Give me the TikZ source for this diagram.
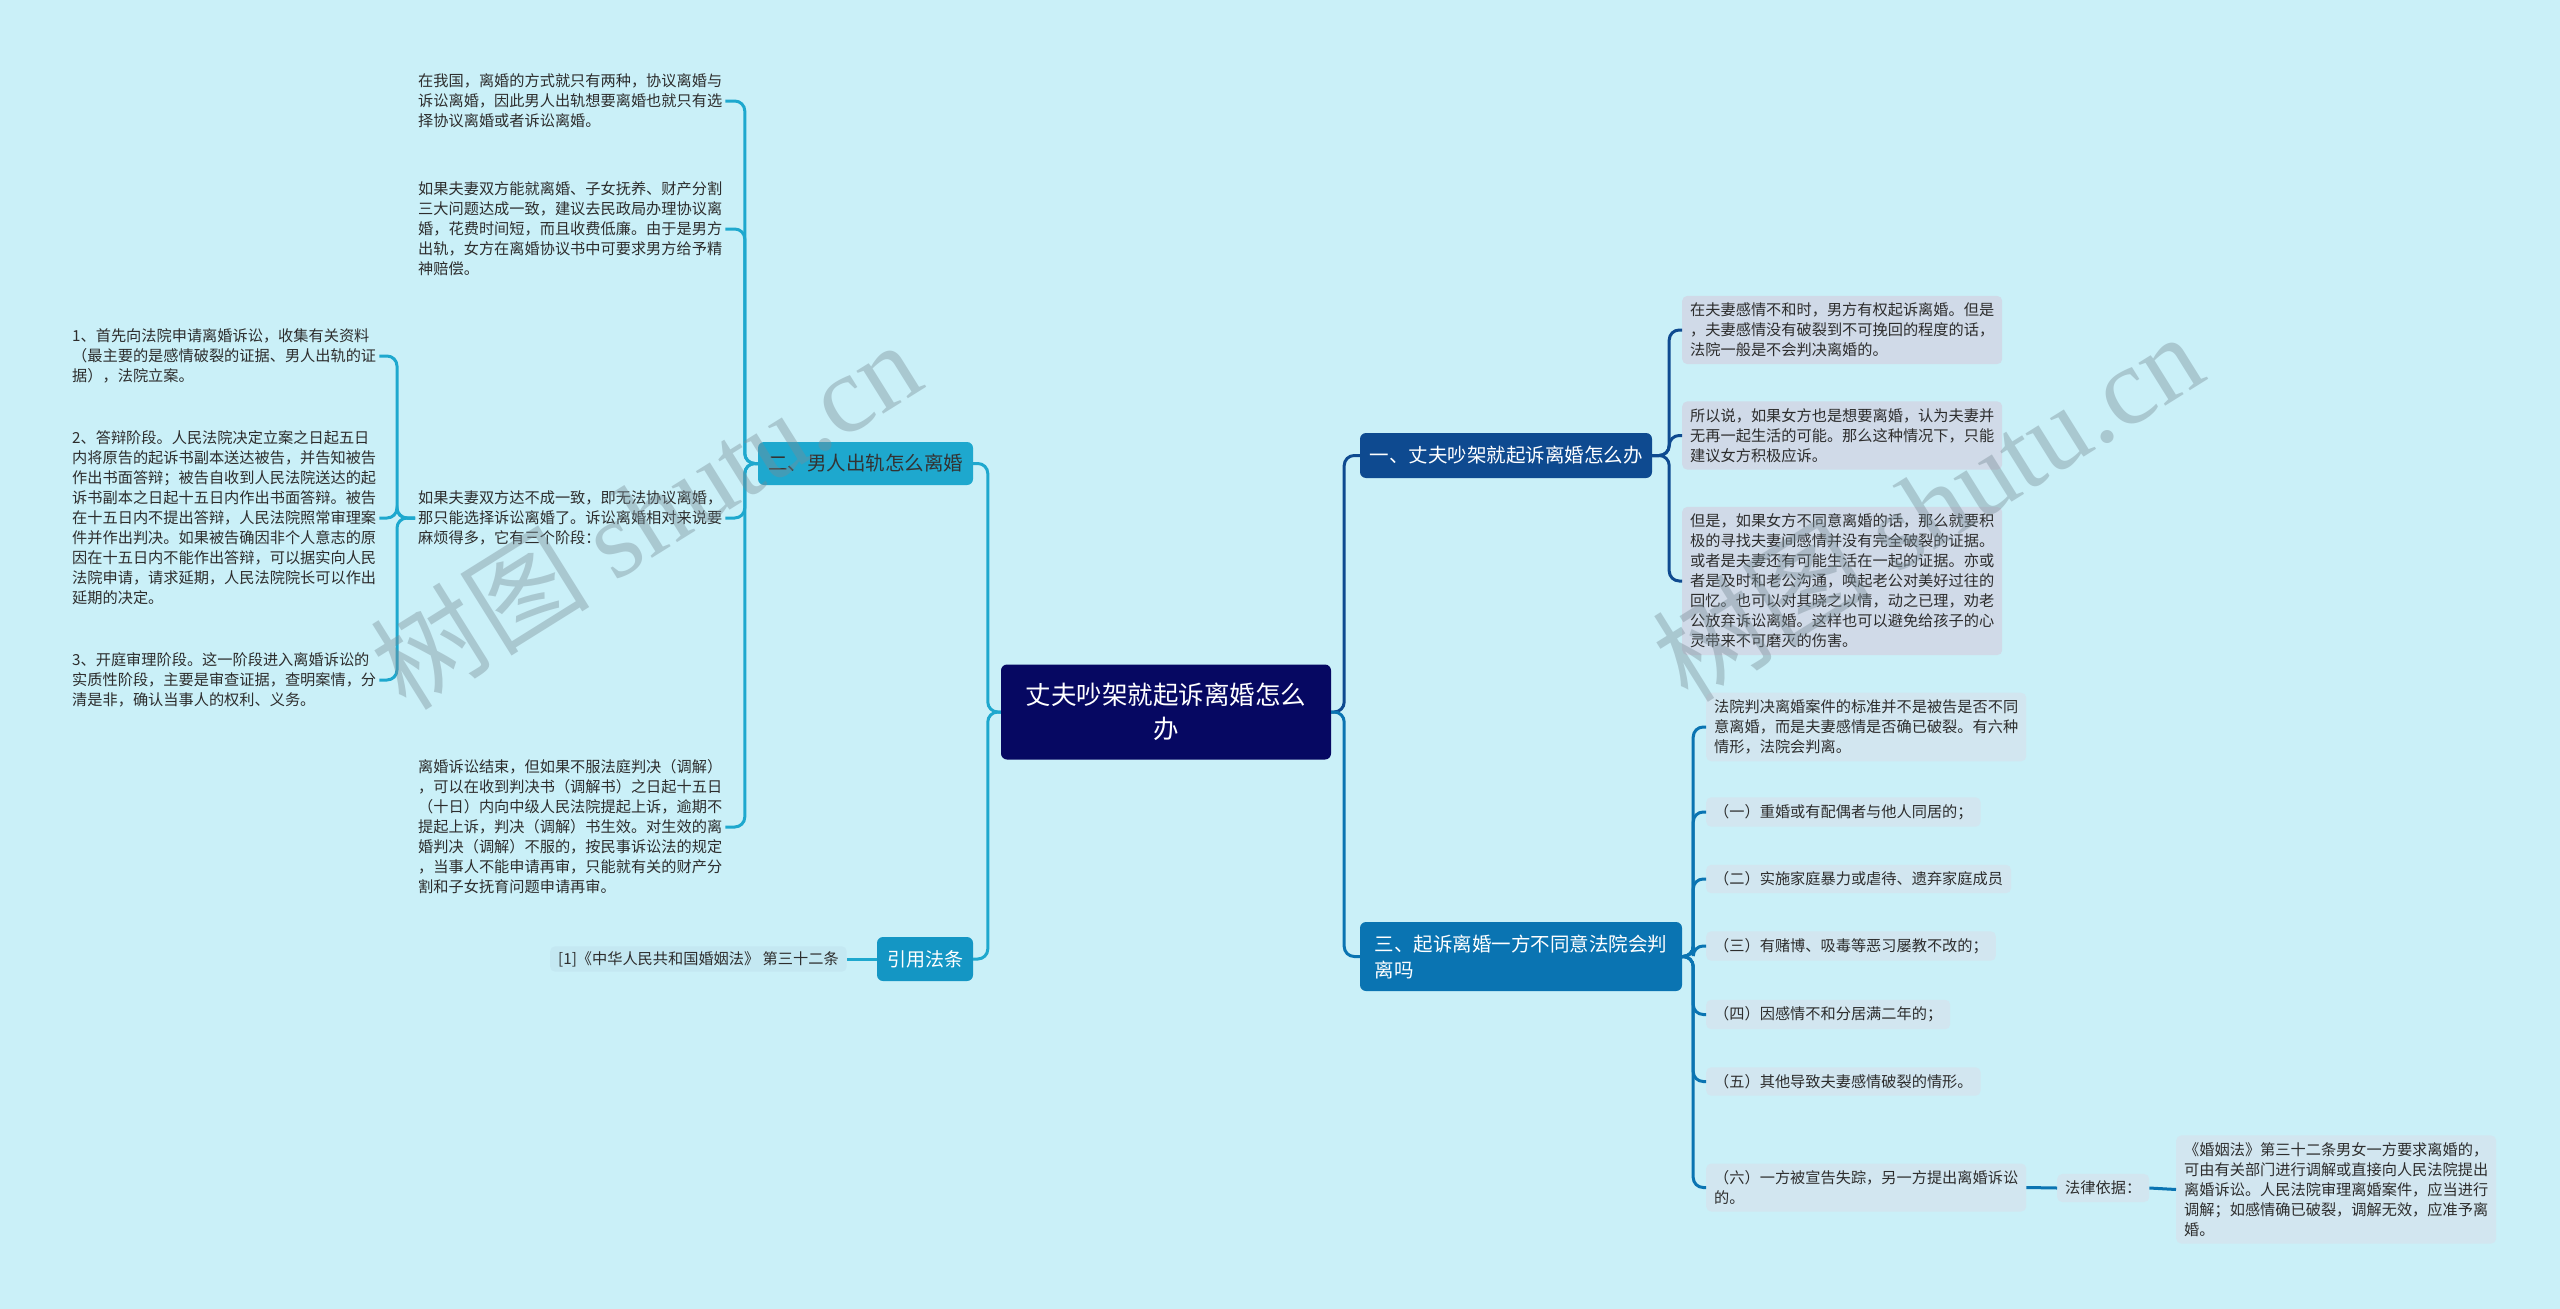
\documentclass[tikz,border=0pt]{standalone}
\usepackage{fontspec}
\setmainfont{Noto Sans CJK SC}
\newfontfamily\wmserif{Liberation Serif}
\definecolor{bgc}{RGB}{202,240,248}
\definecolor{rootc}{RGB}{6,8,98}
\definecolor{b1c}{RGB}{14,74,144}
\definecolor{b3c}{RGB}{10,116,178}
\definecolor{b2c}{RGB}{30,168,206}
\definecolor{b4c}{RGB}{20,150,196}
\definecolor{c1fill}{RGB}{208,218,232}
\definecolor{dfill}{RGB}{210,230,240}
\definecolor{citefill}{RGB}{196,232,242}
\definecolor{txt}{RGB}{45,45,45}
\definecolor{wmc}{RGB}{120,140,150}
\begin{document}
\begin{tikzpicture}[x=1pt,y=-1pt,
  small/.style={font=\fontsize{15.2}{20}\selectfont, text=txt, align=left},
  leaf/.style={small, inner xsep=8pt, inner ysep=7pt, rounded corners=5pt},
  c1box/.style={leaf, fill=c1fill},
  dbox/.style={leaf, fill=dfill},
  plain/.style={small, inner sep=3pt},
  branch/.style={font=\fontsize{19.5}{26}\selectfont, rounded corners=6pt, inner sep=0pt},
  conn/.style={line width=3pt, rounded corners=10pt},
  cb1/.style={conn, draw=b1c},
  cb3/.style={conn, draw=b3c},
  cb2/.style={conn, draw=b2c},
  wm/.style={text=wmc, opacity=0.4, font=\fontsize{110}{110}\selectfont}
]
\fill[bgc] (0,0) rectangle (2560,1309);
\useasboundingbox (0,0) rectangle (2560,1309);

% root
\node[fill=rootc, text=white, font=\fontsize{25.5}{34}\selectfont, align=center,
  minimum width=330pt, minimum height=95pt, rounded corners=6pt, inner sep=0pt]
  (root) at (1166,712) {丈夫吵架就起诉离婚怎么\\办};

% branches
\node[branch, fill=b1c, text=white, minimum width=292pt, minimum height=45pt]
  (b1) at (1506,455.5) {一、丈夫吵架就起诉离婚怎么办};
\node[branch, fill=b3c, text=white, align=left, minimum width=322pt, minimum height=69pt]
  (b3) at (1521,956.5) {三、起诉离婚一方不同意法院会判\\离吗};
\node[branch, fill=b2c, text=black!80, minimum width=215pt, minimum height=43pt]
  (b2) at (865.5,463.5) {二、男人出轨怎么离婚};
\node[branch, fill=b4c, text=white, font=\fontsize{19}{24}\selectfont, minimum width=96pt, minimum height=44pt]
  (b4) at (925,959) {引用法条};

% branch 1 children
\node[c1box, anchor=west] (c1a) at (1682,330) {在夫妻感情不和时，男方有权起诉离婚。但是\\，夫妻感情没有破裂到不可挽回的程度的话，\\法院一般是不会判决离婚的。};
\node[c1box, anchor=west] (c1b) at (1682,435.5) {所以说，如果女方也是想要离婚，认为夫妻并\\无再一起生活的可能。那么这种情况下，只能\\建议女方积极应诉。};
\node[c1box, anchor=west] (c1c) at (1682,581) {但是，如果女方不同意离婚的话，那么就要积\\极的寻找夫妻间感情并没有完全破裂的证据。\\或者是夫妻还有可能生活在一起的证据。亦或\\者是及时和老公沟通，唤起老公对美好过往的\\回忆。也可以对其晓之以情，动之已理，劝老\\公放弃诉讼离婚。这样也可以避免给孩子的心\\灵带来不可磨灭的伤害。};

% branch 3 children
\node[dbox, anchor=west] (d0) at (1706,727) {法院判决离婚案件的标准并不是被告是否不同\\意离婚，而是夫妻感情是否确已破裂。有六种\\情形，法院会判离。};
\node[dbox, anchor=west] (d1) at (1706,812) {（一）重婚或有配偶者与他人同居的；};
\node[dbox, anchor=west] (d2) at (1706,879) {（二）实施家庭暴力或虐待、遗弃家庭成员};
\node[dbox, anchor=west] (d3) at (1706,946) {（三）有赌博、吸毒等恶习屡教不改的；};
\node[dbox, anchor=west] (d4) at (1706,1014.5) {（四）因感情不和分居满二年的；};
\node[dbox, anchor=west] (d5) at (1706,1081.5) {（五）其他导致夫妻感情破裂的情形。};
\node[dbox, anchor=west] (d6) at (1706,1187.5) {（六）一方被宣告失踪，另一方提出离婚诉讼\\的。};
\node[dbox, anchor=west] (lawl) at (2057,1188) {法律依据：};
\node[dbox, anchor=west] (lawt) at (2176,1189.5) {《婚姻法》第三十二条男女一方要求离婚的，\\可由有关部门进行调解或直接向人民法院提出\\离婚诉讼。人民法院审理离婚案件，应当进行\\调解；如感情确已破裂，调解无效，应准予离\\婚。};

% branch 2 children
\node[plain, anchor=west] (e1) at (415,101) {在我国，离婚的方式就只有两种，协议离婚与\\诉讼离婚，因此男人出轨想要离婚也就只有选\\择协议离婚或者诉讼离婚。};
\node[plain, anchor=west] (e2) at (415,229) {如果夫妻双方能就离婚、子女抚养、财产分割\\三大问题达成一致，建议去民政局办理协议离\\婚，花费时间短，而且收费低廉。由于是男方\\出轨，女方在离婚协议书中可要求男方给予精\\神赔偿。};
\node[plain, anchor=west] (e3) at (415,518) {如果夫妻双方达不成一致，即无法协议离婚，\\那只能选择诉讼离婚了。诉讼离婚相对来说要\\麻烦得多，它有三个阶段：};
\node[plain, anchor=west] (e4) at (415,827) {离婚诉讼结束，但如果不服法庭判决（调解）\\，可以在收到判决书（调解书）之日起十五日\\（十日）内向中级人民法院提起上诉，逾期不\\提起上诉，判决（调解）书生效。对生效的离\\婚判决（调解）不服的，按民事诉讼法的规定\\，当事人不能申请再审，只能就有关的财产分\\割和子女抚育问题申请再审。};

\node[plain, anchor=west] (f1) at (69,356) {1、首先向法院申请离婚诉讼，收集有关资料\\（最主要的是感情破裂的证据、男人出轨的证\\据），法院立案。};
\node[plain, anchor=west] (f2) at (69,518) {2、答辩阶段。人民法院决定立案之日起五日\\内将原告的起诉书副本送达被告，并告知被告\\作出书面答辩；被告自收到人民法院送达的起\\诉书副本之日起十五日内作出书面答辩。被告\\在十五日内不提出答辩，人民法院照常审理案\\件并作出判决。如果被告确因非个人意志的原\\因在十五日内不能作出答辩，可以据实向人民\\法院申请，请求延期，人民法院院长可以作出\\延期的决定。};
\node[plain, anchor=west] (f3) at (69,680) {3、开庭审理阶段。这一阶段进入离婚诉讼的\\实质性阶段，主要是审查证据，查明案情，分\\清是非，确认当事人的权利、义务。};

\node[leaf, fill=citefill, anchor=west, inner ysep=5pt] (cite) at (550,959) {[1]《中华人民共和国婚姻法》 第三十二条};

% connectors root
\draw[cb1] (root.east) -- ++(13,0) |- (b1.west);
\draw[cb3] (root.east) -- ++(13,0) |- (b3.west);
\draw[cb2] (root.west) -- ++(-13,0) |- (b2.east);
\draw[cb2] (root.west) -- ++(-13,0) |- (b4.east);

% branch 1
\foreach \n in {c1a,c1b,c1c}
  \draw[cb1] (b1.east) -- ++(17,0) |- (\n.west);
% branch 3
\foreach \n in {d0,d1,d2,d3,d4,d5,d6}
  \draw[cb3] (b3.east) -- ++(11,0) |- (\n.west);
\draw[cb3] (d6.east) -- (lawl.west);
\draw[cb3] (lawl.east) -- (lawt.west);
% branch 2
\foreach \n in {e1,e2,e3,e4}
  \draw[cb2] (b2.west) -- ++(-13,0) |- (\n.east);
\foreach \n in {f1,f2,f3}
  \draw[cb2] (e3.west) -- ++(-18,0) |- (\n.east);
\draw[cb2] (b4.west) -- (cite.east);

% watermarks
\node[wm, rotate=32] (wm1) at (645,514) {树图 {\wmserif shutu.cn}};
\node[wm, rotate=32] (wm2) at (1927,506) {树图 {\wmserif shutu.cn}};
\end{tikzpicture}
\end{document}
